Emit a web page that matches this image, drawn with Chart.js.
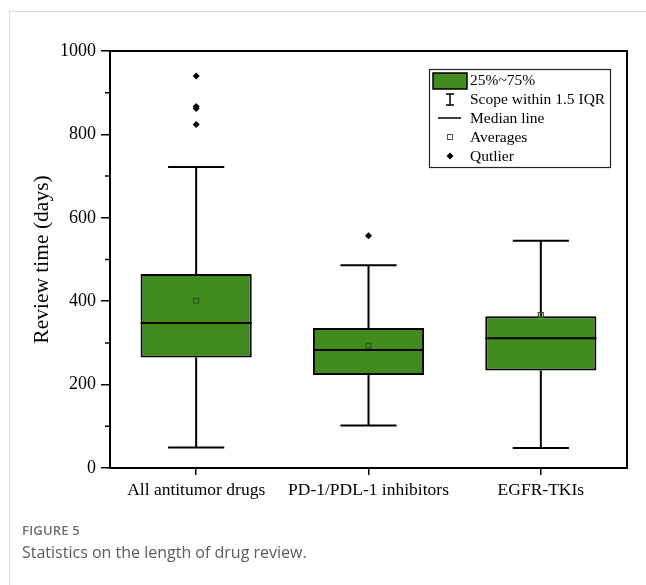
<!DOCTYPE html>
<html>
<head>
<meta charset="utf-8">
<script src="https://cdn.jsdelivr.net/npm/chart.js@4.4.1/dist/chart.umd.min.js"></script>
<style>
  html, body { margin: 0; padding: 0; background: #fff; }
  #wrap { position: relative; width: 646px; height: 585px; overflow: hidden; }
  #page { position: absolute; left: 9px; top: 11px; right: -4px; bottom: -4px;
          border-top: 1.5px solid #dcdcdc; border-left: 1.5px solid #dcdcdc; }
  #chart { position: absolute; left: 0; top: 0; }
  .fig { position: absolute; left: 22px; top: 521px; font: 600 13px "Open Sans", sans-serif;
         color: #6e6e6e; letter-spacing: 0.2px; }
  .cap { position: absolute; left: 22px; top: 541px; font: 400 16px "Open Sans", sans-serif;
         color: #5c5c5c; }
</style>
</head>
<body>
<div id="wrap">
  <div id="page"></div>
  <canvas id="chart" width="646" height="585"></canvas>
  <div class="fig">FIGURE 5</div>
  <div class="cap">Statistics on the length of drug review.</div>
</div>
<script>
// Review time (days) per drug group
const categories = ['All antitumor drugs', 'PD-1/PDL-1 inhibitors', 'EGFR-TKIs'];
const q1 = [265, 223, 234];
const q3 = [465, 336, 364];
const medians = [348, 283, 311];
const means = [401, 293, 367];
const whiskerLow = [49, 102, 48];
const whiskerHigh = [722, 486, 545];
const outliers = [[940, 867, 862, 824], [557], []];
const yTicks = [0, 200, 400, 600, 800, 1000];
const yMinorTicks = [100, 300, 500, 700, 900];
const legendLabels = ['25%~75%', 'Scope within 1.5 IQR', 'Median line', 'Averages', 'Qutlier'];

const GREEN = 'rgb(64,138,30)';
const SERIF = '"Liberation Serif", "Times New Roman", serif';

const outlierPoints = [];
outliers.forEach((vals, i) => vals.forEach(v => outlierPoints.push({ x: categories[i], y: v })));

// whiskers, caps and median lines drawn right after the boxes
const boxExtras = {
  id: 'boxExtras',
  afterDatasetDraw(chart, args) {
    if (args.index !== 0) return;
    const { ctx } = chart;
    const xs = chart.scales.x, ys = chart.scales.y;
    const meta = chart.getDatasetMeta(0);
    const catW = xs.width / categories.length;
    const capHalf = catW * 0.163;
    ctx.save();
    ctx.strokeStyle = '#000';
    ctx.lineWidth = 2;
    ctx.lineCap = 'butt';
    categories.forEach((c, i) => {
      const x = xs.getPixelForValue(i);
      const bar = meta.data[i];
      const half = bar.width / 2;
      ctx.beginPath();
      ctx.moveTo(x, ys.getPixelForValue(q3[i]));
      ctx.lineTo(x, ys.getPixelForValue(whiskerHigh[i]));
      ctx.moveTo(x, ys.getPixelForValue(q1[i]));
      ctx.lineTo(x, ys.getPixelForValue(whiskerLow[i]));
      ctx.moveTo(x - capHalf, ys.getPixelForValue(whiskerHigh[i]));
      ctx.lineTo(x + capHalf, ys.getPixelForValue(whiskerHigh[i]));
      ctx.moveTo(x - capHalf, ys.getPixelForValue(whiskerLow[i]));
      ctx.lineTo(x + capHalf, ys.getPixelForValue(whiskerLow[i]));
      ctx.moveTo(x - half, ys.getPixelForValue(medians[i]));
      ctx.lineTo(x + half, ys.getPixelForValue(medians[i]));
      ctx.stroke();
    });
    ctx.restore();
  }
};

// closing frame, minor ticks and the legend panel
const frameAndLegend = {
  id: 'frameAndLegend',
  afterDraw(chart) {
    const { ctx, chartArea: a } = chart;
    const ys = chart.scales.y;
    ctx.save();
    ctx.strokeStyle = '#000';
    ctx.lineWidth = 2;
    ctx.beginPath();
    ctx.moveTo(a.left - 1, a.top);
    ctx.lineTo(a.right, a.top);
    ctx.lineTo(a.right, a.bottom + 1);
    ctx.stroke();

    ctx.lineWidth = 1.5;
    ctx.beginPath();
    yMinorTicks.forEach(v => {
      const y = ys.getPixelForValue(v);
      ctx.moveTo(a.left, y);
      ctx.lineTo(a.left - 5, y);
    });
    ctx.stroke();

    // legend
    const L = a.right - 198, T = a.top + 18, W = 181, H = 98;
    ctx.lineWidth = 1.2;
    ctx.strokeStyle = '#222';
    ctx.strokeRect(L + 0.5, T + 0.5, W, H);
    const rowY = [11, 30, 49, 68, 87].map(d => T + d);
    const ix = L + 21;
    // swatch
    ctx.fillStyle = GREEN;
    ctx.fillRect(L + 4, rowY[0] - 7, 34, 16);
    ctx.strokeStyle = '#000';
    ctx.lineWidth = 1.5;
    ctx.strokeRect(L + 4, rowY[0] - 7, 34, 16);
    // whisker range glyph
    ctx.beginPath();
    ctx.moveTo(ix - 4, rowY[1] - 5); ctx.lineTo(ix + 4, rowY[1] - 5);
    ctx.moveTo(ix, rowY[1] - 5); ctx.lineTo(ix, rowY[1] + 6);
    ctx.moveTo(ix - 4, rowY[1] + 6); ctx.lineTo(ix + 4, rowY[1] + 6);
    ctx.stroke();
    // median glyph
    ctx.beginPath();
    ctx.moveTo(ix - 12, rowY[2]); ctx.lineTo(ix + 11, rowY[2]);
    ctx.stroke();
    // mean glyph
    ctx.lineWidth = 1;
    ctx.strokeStyle = '#555';
    ctx.strokeRect(ix - 2.5, rowY[3] - 2.5, 5, 5);
    // outlier glyph
    ctx.fillStyle = '#000';
    ctx.beginPath();
    ctx.moveTo(ix, rowY[4] - 3.5); ctx.lineTo(ix + 3.5, rowY[4]);
    ctx.lineTo(ix, rowY[4] + 3.5); ctx.lineTo(ix - 3.5, rowY[4]);
    ctx.closePath(); ctx.fill();

    ctx.fillStyle = '#000';
    ctx.font = '15.5px ' + SERIF;
    ctx.textBaseline = 'middle';
    ctx.textAlign = 'left';
    legendLabels.forEach((t, i) => ctx.fillText(t, L + 41, rowY[i] + 1));
    ctx.restore();
  }
};

new Chart(document.getElementById('chart'), {
  data: {
    labels: categories,
    datasets: [
      {
        type: 'bar',
        data: categories.map((c, i) => [q1[i], q3[i]]),
        backgroundColor: GREEN,
        borderColor: '#000',
        borderWidth: 2,
        borderSkipped: false,
        barPercentage: 0.645,
        categoryPercentage: 1.0,
        order: 3
      },
      {
        type: 'line',
        data: means,
        showLine: false,
        pointStyle: 'rect',
        pointRadius: 3.5,
        pointBackgroundColor: 'rgba(0,0,0,0)',
        pointBorderColor: '#2a5515',
        pointBorderWidth: 1.2,
        order: 1
      },
      {
        type: 'line',
        data: outlierPoints,
        showLine: false,
        pointStyle: 'rectRot',
        pointRadius: 3.5,
        pointBackgroundColor: '#000',
        pointBorderColor: '#000',
        pointBorderWidth: 0,
        order: 2
      }
    ]
  },
  options: {
    responsive: false,
    animation: false,
    devicePixelRatio: 1,
    layout: { padding: { top: 51, right: 19, left: 0, bottom: 0 } },
    plugins: { legend: { display: false }, tooltip: { enabled: false } },
    scales: {
      x: {
        type: 'category',
        offset: true,
        afterFit(s) { s.height = 117; },
        grid: { offset: false, drawOnChartArea: false, drawTicks: true, tickLength: 7, color: '#000', lineWidth: 1.5 },
        border: { display: true, color: '#000', width: 2 },
        ticks: { color: '#000', padding: 5, font: { family: SERIF, size: 17.5 }, maxRotation: 0, autoSkip: false }
      },
      y: {
        min: 0,
        max: 1000,
        afterFit(s) { s.width = 110; },
        afterBuildTicks(s) { s.ticks = yTicks.map(v => ({ value: v })); },
        grid: { drawOnChartArea: false, drawTicks: true, tickLength: 9, color: '#000', lineWidth: 1.5 },
        border: { display: true, color: '#000', width: 2 },
        ticks: { color: '#000', padding: 5, font: { family: SERIF, size: 18 }, callback: v => String(v) },
        title: {
          display: true,
          text: 'Review time (days)',
          color: '#000',
          font: { family: SERIF, size: 21.5 },
          padding: { top: 29, bottom: 0 }
        }
      }
    }
  },
  plugins: [boxExtras, frameAndLegend]
});
</script>
</body>
</html>
